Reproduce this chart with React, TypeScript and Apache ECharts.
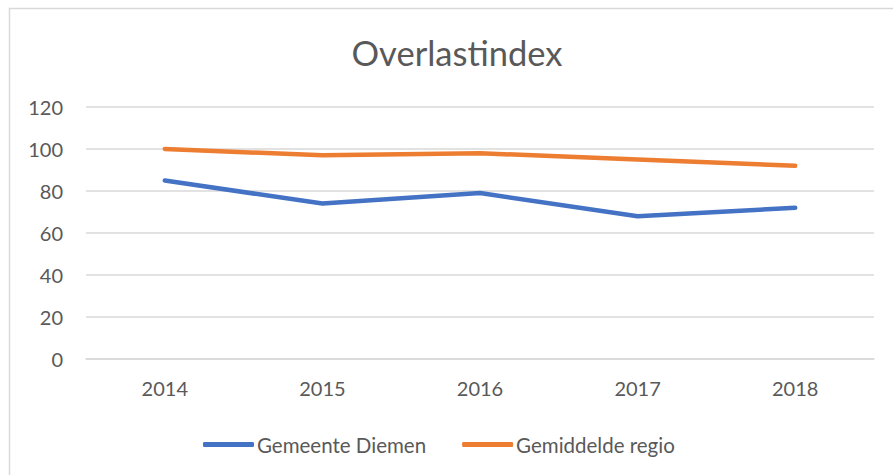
import React, { useEffect, useRef } from "react";
import * as echarts from "echarts";

const categories = ["2014", "2015", "2016", "2017", "2018"];
const diemen = [85, 74, 79, 68, 72];
const regio = [100, 97, 98, 95, 92];
const seriesNames = ["Gemeente Diemen", "Gemiddelde regio"];
const titleText = "Overlastindex";

const FONT = "Lato, 'Open Sans', sans-serif";
const GREY = "#595959";

export default function App() {
  const ref = useRef<HTMLDivElement>(null);
  useEffect(() => {
    if (!ref.current) return;
    const chart = echarts.init(ref.current, null, { renderer: "svg" });
    chart.setOption({
      animation: false,
      backgroundColor: "#ffffff",
      title: {
        text: titleText,
        left: 452,
        textAlign: "center",
        top: 30,
        textStyle: { fontFamily: FONT, fontSize: 34.5, fontWeight: "normal", color: GREY },
      },
      graphic: [
        {
          type: "rect",
          shape: { x: 9.5, y: 8.5, width: 900, height: 480 },
          style: { fill: "none", stroke: "#d9d9d9", lineWidth: 1.5 },
          silent: true,
          z: -1,
        },
      ],
      legend: {
        data: seriesNames,
        left: 198,
        top: 429,
        itemWidth: 51,
        itemHeight: 5,
        itemGap: 36,
        icon: "roundRect",
        textStyle: { fontFamily: FONT, fontSize: 20.5, color: GREY, padding: [0, 0, 0, -2] },
      },
      grid: { left: 86, right: 19, top: 107, bottom: 116, containLabel: false },
      xAxis: {
        type: "category",
        data: categories,
        boundaryGap: true,
        axisLine: { show: true, lineStyle: { color: "#d9d9d9", width: 1.5 } },
        axisTick: { show: false },
        axisLabel: { fontFamily: FONT, fontSize: 20, color: GREY, margin: 19 },
      },
      yAxis: {
        type: "value",
        min: 0,
        max: 120,
        interval: 20,
        axisLine: { show: false },
        axisTick: { show: false },
        splitLine: { lineStyle: { color: "#d9d9d9", width: 1.5 } },
        axisLabel: { fontFamily: FONT, fontSize: 20, color: GREY, margin: 23 },
      },
      series: [
        {
          name: seriesNames[0],
          type: "line",
          data: diemen,
          symbol: "none",
          color: "#4472C4",
          lineStyle: { width: 4.5, color: "#4472C4", cap: "round", join: "round" },
        },
        {
          name: seriesNames[1],
          type: "line",
          data: regio,
          symbol: "none",
          color: "#ED7D31",
          lineStyle: { width: 4.5, color: "#ED7D31", cap: "round", join: "round" },
        },
      ],
    });
    return () => chart.dispose();
  }, []);
  return (
    <div
      ref={ref}
      style={{ position: "fixed", left: 0, top: 0, width: 893, height: 475 }}
    />
  );
}
